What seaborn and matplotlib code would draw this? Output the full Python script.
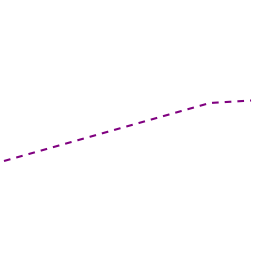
import matplotlib
matplotlib.use("Agg")
import matplotlib.pyplot as plt
import seaborn as sns
import pandas as pd

x_vals = [0, 1, 2, 3, 4, 5, 6]
y_vals = [95, 106.6, 118.2, 129.8, 141.4, 153, 155.5]

df = pd.DataFrame({"x": x_vals, "y": y_vals})

fig = plt.figure(figsize=(2.56, 2.56), dpi=100)
ax = fig.add_axes([0, 0, 1, 1])
sns.lineplot(data=df, x="x", y="y", ax=ax, color="#800080", linewidth=1.5)
ax.lines[0].set_dashes((3.2, 2.9))
ax.set_xlim(-0.097, 6.121)
ax.set_ylim(0, 256)
ax.axis("off")
fig.savefig("out.png", dpi=100)
